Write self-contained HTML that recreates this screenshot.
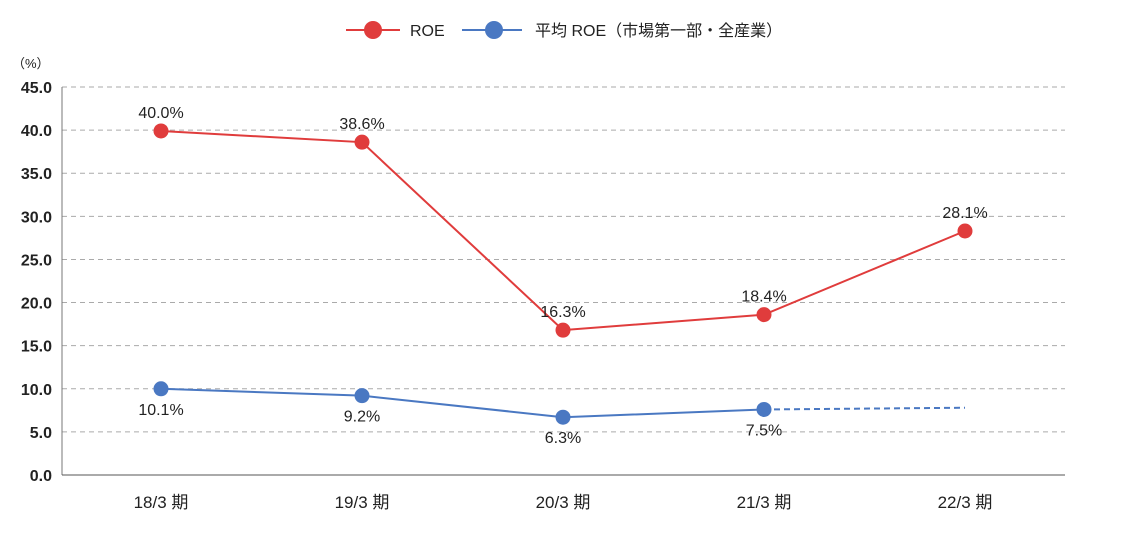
<!DOCTYPE html>
<html><head><meta charset="utf-8"><style>
body{margin:0;background:#fff;}
svg text{font-family:"Liberation Sans","Noto Sans CJK JP",sans-serif;}
</style></head><body>
<svg id="chart" width="1130" height="538" xmlns="http://www.w3.org/2000/svg">
<g>
<g>
<line x1="346" y1="30" x2="400" y2="30" stroke="#e03c3c" stroke-width="2"/>
<circle cx="373" cy="30" r="9" fill="#e03c3c"/>
<text x="410" y="36" font-size="16" fill="#222">ROE</text></g>
<g>
<line x1="462" y1="30" x2="522" y2="30" stroke="#4a78c2" stroke-width="2"/>
<circle cx="494" cy="30" r="9" fill="#4a78c2"/>
<text x="535" y="36" font-size="16" fill="#222">平均 ROE（市場第一部・全産業）</text></g>
</g>
<text x="12" y="68" font-size="13" fill="#222">（%）</text>
<g id="grid"></g><g id="axes"></g><g id="series"></g>
</svg>
<script>
const categories=["18/3 期","19/3 期","20/3 期","21/3 期","22/3 期"];
const roeValues=[39.9,38.6,16.8,18.6,28.3];
const roeLabels=["40.0%","38.6%","16.3%","18.4%","28.1%"];
const avgValues=[10.0,9.2,6.7,7.6];
const avgLabels=["10.1%","9.2%","6.3%","7.5%"];
const avgForecast=[7.6,7.8];
const yTicks=[0,5,10,15,20,25,30,35,40,45];
const NS="http://www.w3.org/2000/svg";
const X0=62,X1=1065,Y0=475,Y1=87;
const y=v=>Y0-(v/45)*(Y0-Y1);
const x=i=>161+i*201;
function mk(tag,attrs,parent,txt){const e=document.createElementNS(NS,tag);for(const k in attrs)e.setAttribute(k,attrs[k]);if(txt!==undefined)e.textContent=txt;parent.appendChild(e);return e;}
const grid=document.getElementById('grid'),axes=document.getElementById('axes'),ser=document.getElementById('series');
yTicks.forEach(t=>{
 if(t>0){const l=mk('line',{x1:X0,x2:X1,y1:y(t),y2:y(t),stroke:'#aaa','stroke-dasharray':'5,4'},grid);
 
 }
 const tx=mk('text',{x:52,y:y(t)+6,'text-anchor':'end','font-size':'16','font-weight':'bold',fill:'#222'},axes,t.toFixed(1));
 
 
});
const ya=mk('line',{x1:X0,x2:X0,y1:Y1,y2:Y0,stroke:'#777'},axes);


const xa=mk('line',{x1:X0,x2:X1,y1:Y0,y2:Y0,stroke:'#555'},axes);


categories.forEach((c,i)=>{const t=mk('text',{x:x(i),y:508,'text-anchor':'middle','font-size':'17',fill:'#222'},axes,c);
 
 });
function series(vals,labels,color,name,below){
 const p=mk('polyline',{points:vals.map((v,i)=>x(i)+','+y(v)).join(' '),fill:'none',stroke:color,'stroke-width':2},ser);
 
 
 vals.forEach((v,i)=>{const c=mk('circle',{cx:x(i),cy:y(v),r:7.5,fill:color},ser);
  
  
  const t=mk('text',{x:x(i),y:below?y(v)+26:y(v)-13,'text-anchor':'middle','font-size':'16',fill:'#222'},ser,labels[i]);
  
  });
}
const d=mk('line',{x1:x(3),y1:y(avgForecast[0]),x2:x(4),y2:y(avgForecast[1]),stroke:'#4a78c2','stroke-width':2,'stroke-dasharray':'6,4'},ser);


series(roeValues,roeLabels,'#e03c3c','roe',false);
series(avgValues,avgLabels,'#4a78c2','avg-roe',true);
</script>
</body></html>
